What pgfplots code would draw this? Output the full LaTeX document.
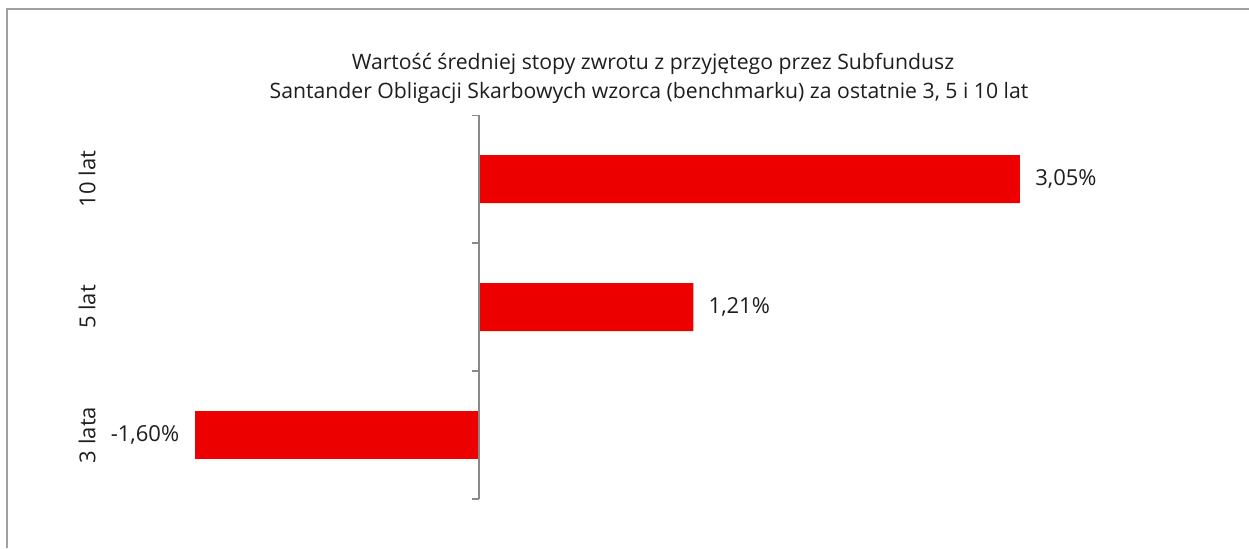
\documentclass[border=0pt]{standalone}
\usepackage{fontspec}
\setmainfont{Open Sans}
\usepackage{pgfplots}
\pgfplotsset{compat=1.18}
\definecolor{barred}{RGB}{236,0,0}
\definecolor{axgray}{RGB}{137,137,137}
\definecolor{framegray}{RGB}{160,160,160}
\definecolor{txt}{RGB}{30,30,30}
\begin{document}
\begin{tikzpicture}
\useasboundingbox (0,0) rectangle (624.5pt,-274pt);
\fill[white] (0,0) rectangle (624.5pt,-274pt);
\draw[framegray, line width=1pt] (3.5pt,-274pt) -- (3.5pt,-4.5pt) -- (624.5pt,-4.5pt);
\node[anchor=base, font=\fontsize{10.6}{13}\selectfont, text=txt] at (326.5pt,-34.75pt)
 {Wartość średniej stopy zwrotu z przyjętego przez Subfundusz};
\node[anchor=base, font=\fontsize{10.6}{13}\selectfont, text=txt] at (324.5pt,-49pt)
 {Santander Obligacji Skarbowych wzorca (benchmarku) za ostatnie 3, 5 i 10 lat};
\begin{axis}[
  at={(61.75pt,-249.5pt)}, anchor=south west,
  scale only axis, width=532.5pt, height=192pt,
  xbar, bar width=24pt, bar shift=0pt,
  xmin=-2, xmax=4, ymin=-0.5, ymax=2.5,
  axis line style={draw=none},
  xtick=\empty,
  ytick={0,1,2}, yticklabels={3 lata,5 lat,10 lat},
  ytick pos=left,
  major tick length=0pt,
  yticklabel style={xshift=-10.4pt, rotate=90, anchor=south, font=\fontsize{11}{13}\selectfont, text=txt},
  point meta=explicit symbolic,
]
\addplot[fill=barred, draw=none, nodes near coords,
  every node near coord/.append style={anchor=west, font=\fontsize{11}{13}\selectfont, text=txt, inner xsep=7.5pt}]
  table[meta=label] {
x y label
3.05 2 3,05\%
1.21 1 1,21\%
};
\addplot[fill=barred, draw=none, nodes near coords,
  every node near coord/.append style={anchor=east, font=\fontsize{11}{13}\selectfont, text=txt, inner xsep=7.5pt}]
  table[meta=label] {
x y label
-1.60 0 -1,60\%
};
\draw[axgray, line width=1pt] (axis cs:0,-0.5) -- (axis cs:0,2.5);
\pgfplotsinvokeforeach{-0.5,0.5,1.5,2.5}{\draw[axgray, line width=1pt] (axis cs:0,#1) -- ([xshift=-3.5pt]axis cs:0,#1);}
\end{axis}
\end{tikzpicture}
\end{document}
